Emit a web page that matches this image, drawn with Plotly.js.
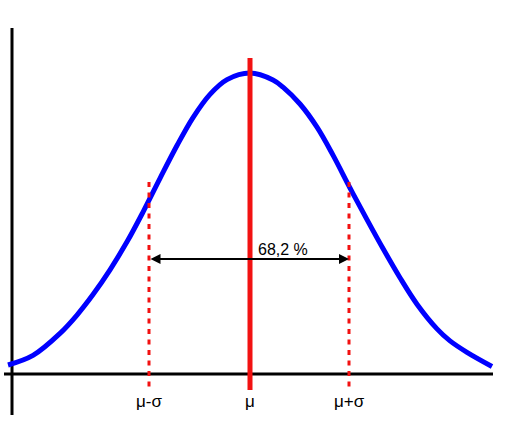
<!DOCTYPE html>
<html>
<head>
<meta charset="utf-8">
<script src="https://cdn.plot.ly/plotly-3.0.1.min.js"></script>
<style>html,body{margin:0;padding:0;background:#fff;}#chart{width:511px;height:425px;}</style>
</head>
<body>
<div id="chart"></div>
<script>
// Curve: x in sigma units from the mean, y relative to peak height
const curveX = [-2.42, -2.17, -1.90, -1.73, -1.57, -1.40, -1.23, -1.07, -0.90, -0.73, -0.57, -0.40, -0.23, 0.00,
                0.23, 0.33, 0.50, 0.67, 0.83, 1.00, 1.17, 1.33, 1.50, 1.67, 1.87, 2.00, 2.17, 2.42];
const curveY = [0.030, 0.062, 0.135, 0.196, 0.264, 0.346, 0.439, 0.538, 0.650, 0.759, 0.852, 0.929, 0.978, 1.000,
                0.977, 0.953, 0.897, 0.820, 0.727, 0.618, 0.513, 0.417, 0.320, 0.232, 0.150, 0.110, 0.072, 0.025];
const markerPositions = [-1.01, 0, 0.99];
const tickLabels = ['μ-σ', 'μ', 'μ+σ'];
const percentLabel = '68,2 %';

const font = 'Liberation Sans, Arial, sans-serif';

const shapes = [
  {type:'line', xref:'x', yref:'y', x0:-2.38, x1:-2.38, y0:1.1495, y1:-0.136, line:{color:'#000', width:3}, layer:'below'},
  {type:'line', xref:'x', yref:'y', x0:-2.46, x1:2.43, y0:0, y1:0, line:{color:'#000', width:3}, layer:'below'},
  {type:'line', xref:'x', yref:'y', x0:markerPositions[1], x1:markerPositions[1], y0:1.05, y1:-0.053, line:{color:'#f21111', width:5}, layer:'above'},
  {type:'line', xref:'x', yref:'y', x0:markerPositions[0], x1:markerPositions[0], y0:0.638, y1:-0.053, line:{color:'#f21111', width:3, dash:'5px,5.5px'}, layer:'above'},
  {type:'line', xref:'x', yref:'y', x0:markerPositions[2], x1:markerPositions[2], y0:0.638, y1:-0.053, line:{color:'#f21111', width:3, dash:'5px,5.5px'}, layer:'above'}
];

const annotations = [
  {x:markerPositions[2], y:0.382, ax:markerPositions[0], ay:0.382, axref:'x', ayref:'y', xref:'x', yref:'y',
   text:'', showarrow:true, arrowside:'end+start', arrowhead:2, arrowsize:1, arrowwidth:2, arrowcolor:'#000', standoff:0, startstandoff:0},
  {x:0.33, y:0.412, xref:'x', yref:'y', text:percentLabel, showarrow:false, font:{family:font, size:16, color:'#000'}}
];
tickLabels.forEach((t, i) => {
  annotations.push({x:markerPositions[i], y:-0.0897, xref:'x', yref:'y', text:t, showarrow:false,
    font:{family:font, size:17, color:'#000'}});
});

const data = [{
  x: curveX, y: curveY, type:'scatter', mode:'lines',
  line:{color:'#0000ff', width:5, shape:'spline', smoothing:1}, hoverinfo:'skip'
}];

const layout = {
  width:511, height:425,
  margin:{l:0, r:0, t:0, b:0},
  paper_bgcolor:'#fff', plot_bgcolor:'#fff',
  showlegend:false,
  xaxis:{range:[-2.5, 2.61], visible:false, fixedrange:true},
  yaxis:{range:[-0.1694, 1.2425], visible:false, fixedrange:true},
  shapes: shapes,
  annotations: annotations
};

Plotly.newPlot('chart', data, layout, {displayModeBar:false, staticPlot:true});
</script>
</body>
</html>
